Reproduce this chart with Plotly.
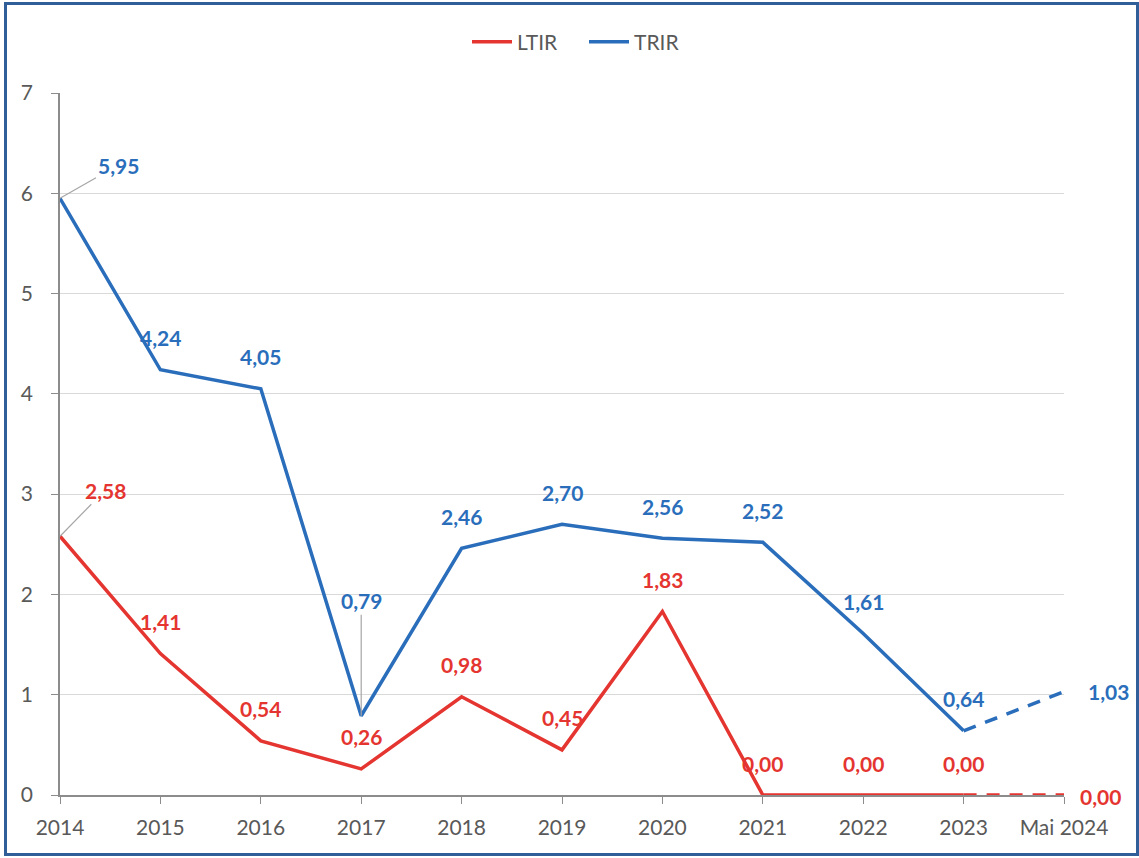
import plotly.graph_objects as go

categories = ["2014", "2015", "2016", "2017", "2018", "2019", "2020", "2021", "2022", "2023", "Mai 2024"]
ltir = [2.58, 1.41, 0.54, 0.26, 0.98, 0.45, 1.83, 0.00, 0.00, 0.00, 0.00]
trir = [5.95, 4.24, 4.05, 0.79, 2.46, 2.70, 2.56, 2.52, 1.61, 0.64, 1.03]
y_ticks = [0, 1, 2, 3, 4, 5, 6, 7]

RED = "#E53530"
BLUE = "#2A6EBB"
GRAY = "#595959"
FONT = "Lato, 'Open Sans', sans-serif"

W, H = 1139, 858
ML, MR, MT, MB = 60, 75, 93, 63

def fmt(v):
    return f"{v:.2f}".replace(".", ",")

fig = go.Figure()
n = len(categories)
# solid parts (up to 2023)
fig.add_trace(go.Scatter(x=categories[:n-1], y=ltir[:n-1], mode="lines", name="LTIR",
                         line=dict(color=RED, width=3.5)))
fig.add_trace(go.Scatter(x=categories[:n-1], y=trir[:n-1], mode="lines", name="TRIR",
                         line=dict(color=BLUE, width=3.5)))
# dashed last segment
fig.add_trace(go.Scatter(x=categories[n-2:], y=ltir[n-2:], mode="lines", showlegend=False,
                         line=dict(color=RED, width=3.5, dash="13px,10px")))
fig.add_trace(go.Scatter(x=categories[n-2:], y=trir[n-2:], mode="lines", showlegend=False,
                         line=dict(color=BLUE, width=3.5, dash="13px,10px")))

annotations = []
def label_font(c):
    return dict(family=FONT, size=21, color=c, weight="bold")

for i, v in enumerate(trir):
    a = dict(x=i, y=v, text=fmt(v), showarrow=False, font=label_font(BLUE), yshift=32)
    if i == 0:
        a = dict(x=i, y=v, text=fmt(v), showarrow=True, arrowhead=0, arrowwidth=1.2,
                 arrowcolor="#A6A6A6", ax=58, ay=-33, font=label_font(BLUE))
    elif i == 3:
        a = dict(x=i, y=v, text=fmt(v), showarrow=True, arrowhead=0, arrowwidth=1.2,
                 arrowcolor="#A6A6A6", ax=0, ay=-115, font=label_font(BLUE))
    elif i == n - 1:
        a = dict(x=i, y=v, text=fmt(v), showarrow=False, font=label_font(BLUE),
                 xshift=44, yshift=0)
    annotations.append(a)

for i, v in enumerate(ltir):
    a = dict(x=i, y=v, text=fmt(v), showarrow=False, font=label_font(RED), yshift=32)
    if i == 0:
        a = dict(x=i, y=v, text=fmt(v), showarrow=True, arrowhead=0, arrowwidth=1.2,
                 arrowcolor="#A6A6A6", ax=45, ay=-46, font=label_font(RED))
    elif i == n - 1:
        a = dict(x=i, y=v, text=fmt(v), showarrow=False, font=label_font(RED),
                 xshift=36, yshift=-1)
    annotations.append(a)

pw = W - ML - MR
ph = H - MT - MB
x0 = (5.5 - ML) / pw
x1 = (1137.5 - ML) / pw
y1 = (H - MB - 3.5) / ph
y0 = (H - MB - 854.5) / ph

fig.update_layout(
    width=W, height=H,
    margin=dict(l=ML, r=MR, t=MT, b=MB),
    paper_bgcolor="white", plot_bgcolor="white",
    font=dict(family=FONT, size=21, color=GRAY),
    showlegend=True,
    legend=dict(orientation="h", x=0.5 + 22/pw, xanchor="center", y=1.0 + 51/ph, yanchor="middle",
                font=dict(size=21, color=GRAY), entrywidth=62, itemwidth=40),
    annotations=annotations,
    shapes=[dict(type="rect", xref="paper", yref="paper", x0=x0, x1=x1, y0=y0, y1=y1,
                 line=dict(color="#2F5E98", width=3), layer="above")],
    xaxis=dict(type="category", range=[0, n - 1], showgrid=False,
               showline=True, linecolor="#8C8C8C", linewidth=1.5,
               ticks="outside", ticklen=7, tickcolor="#8C8C8C",
               tickfont=dict(size=21, color=GRAY), zeroline=False, ticklabelstandoff=6),
    yaxis=dict(range=[0, 7], tickvals=y_ticks, showgrid=True, gridcolor="#D9D9D9", gridwidth=1.3,
               showline=True, linecolor="#8C8C8C", linewidth=1.5,
               ticks="outside", ticklen=7, tickcolor="#8C8C8C",
               tickfont=dict(size=21, color=GRAY), zeroline=False, ticklabelstandoff=14),
)

fig.write_html("out.html", config={"displayModeBar": False},
               post_script="document.body.style.margin='0';")
